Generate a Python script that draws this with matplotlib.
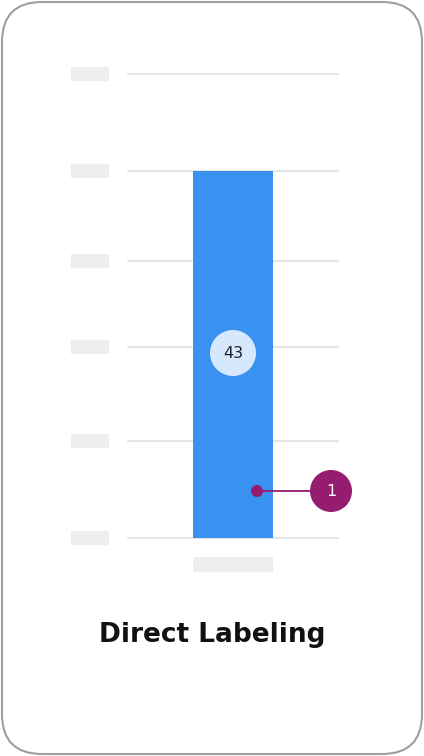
import matplotlib
matplotlib.use("Agg")
import matplotlib.pyplot as plt
from matplotlib.patches import FancyBboxPatch, Circle, Rectangle

categories = ["A"]
values = [43]
grid_values = [0, 11.4, 22.4, 32.5, 43, 54.4]
annotation_number = "1"
title = "Direct Labeling"

W, H = 424, 756
fig = plt.figure(figsize=(W/100, H/100), dpi=100)
fig.patch.set_facecolor("white")

# data axes: value 0 at y=538 px, 43 at y=171 px
ppu = (538-171)/43
ax = fig.add_axes([0, 0, 1, 1])
ax.set_xlim(0, W)
ax.set_ylim(-(H-538)/ppu, 538/ppu)
ax.axis("off")
for g in grid_values:
    ax.plot([128, 338], [g, g], color="#E0E0E0", lw=1.2, zorder=1)
    ax.add_patch(Rectangle((71, g-7/ppu), 38, 14/ppu, fc="#EEEEEE", ec="none"))
ax.bar([233], values, width=80, color="#3A92F0", zorder=2)
ax.add_patch(FancyBboxPatch((193, values[0]-12/ppu), 80, 12/ppu, boxstyle="round,pad=0,rounding_size=7",
                            mutation_aspect=1/ppu, fc="#3A92F0", ec="none", zorder=2))
ax.add_patch(Rectangle((193, values[0]-14/ppu), 80, 8/ppu, fc="#3A92F0", ec="none", zorder=2))
ax.add_patch(Rectangle((193, -34/ppu), 80, 15/ppu, fc="#EEEEEE", ec="none"))

bg = fig.add_axes([0, 0, 1, 1])
bg.set_xlim(0, W); bg.set_ylim(H, 0); bg.axis("off")
bg.patch.set_visible(False)
bg.add_patch(FancyBboxPatch((2, 2), W-4, H-4, boxstyle="round,pad=0,rounding_size=40",
                            fc="none", ec="#9E9E9E", lw=1.5))

# direct label
bg.add_patch(Circle((233, 353), 23, fc="#D6E8FD", ec="none", zorder=3))
bg.text(233, 354, str(values[0]), ha="center", va="center", fontsize=11.5, color="#222222", zorder=4)

# annotation
bg.plot([257, 320], [491, 491], color="#951C6E", lw=1.3, zorder=3)
bg.add_patch(Circle((257, 491), 6, fc="#951C6E", ec="none", zorder=4))
bg.add_patch(Circle((331, 491), 21, fc="#951C6E", ec="none", zorder=4))
bg.text(331, 492, annotation_number, ha="center", va="center", fontsize=11.5, color="white", zorder=5)

bg.text(212, 635, title, ha="center", va="center", fontsize=19, fontweight="heavy", color="#111111")
fig.savefig("out.png", dpi=100)
